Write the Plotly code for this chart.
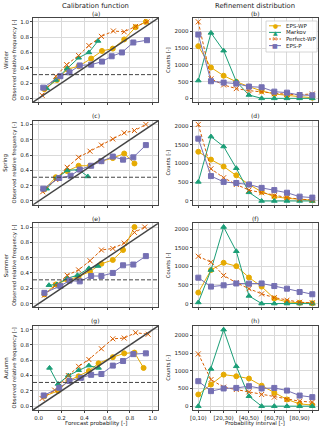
import plotly.graph_objects as go
from plotly.subplots import make_subplots

seasons = ["Winter", "Spring", "Summer", "Autumn"]
models = ["EPS-WP", "Markov", "Perfect-WP", "EPS-P"]
intervals = ["[0,10)", "[10,20)", "[20,30)", "[30,40)", "[40,50)",
             "[50,60)", "[60,70)", "[70,80)", "[80,90)", "[90,100]"]
climatology = [0.31, 0.31, 0.31, 0.31]

# calibration: mean forecast probability (p) and observed relative frequency (f)
winter_epswp_p = [0.05, 0.16, 0.25, 0.35, 0.46, 0.555, 0.65, 0.75, 0.85, 0.94]
winter_epswp_f = [0.12, 0.24, 0.38, 0.42, 0.52, 0.62, 0.65, 0.77, 0.93, 1.0]
winter_markov_p = [0.07, 0.15, 0.25, 0.35, 0.44, 0.52]
winter_markov_f = [0.13, 0.24, 0.39, 0.53, 0.60, 0.75]
winter_perfect_p = [0.03, 0.15, 0.245, 0.35, 0.44, 0.55, 0.655, 0.75, 0.85, 0.95]
winter_perfect_f = [0.04, 0.29, 0.44, 0.56, 0.69, 0.81, 0.88, 0.87, 0.94, 1.0]
winter_epsp_p = [0.04, 0.19, 0.27, 0.36, 0.46, 0.555, 0.64, 0.73, 0.83, 0.95]
winter_epsp_f = [0.14, 0.29, 0.34, 0.43, 0.44, 0.48, 0.55, 0.60, 0.73, 0.76]

spring_epswp_p = [0.05, 0.15, 0.25, 0.35, 0.45, 0.55, 0.65, 0.75, 0.84]
spring_epswp_f = [0.15, 0.31, 0.39, 0.46, 0.46, 0.52, 0.56, 0.62, 0.49]
spring_markov_p = [0.07, 0.16, 0.25, 0.35, 0.43]
spring_markov_f = [0.16, 0.30, 0.40, 0.41, 0.32]
spring_perfect_p = [0.035, 0.15, 0.25, 0.35, 0.45, 0.55, 0.65, 0.75, 0.84, 0.94]
spring_perfect_f = [0.12, 0.28, 0.44, 0.57, 0.65, 0.73, 0.81, 0.89, 0.92, 1.0]
spring_epsp_p = [0.04, 0.18, 0.28, 0.36, 0.46, 0.55, 0.65, 0.74, 0.83, 0.94]
spring_epsp_f = [0.16, 0.30, 0.33, 0.41, 0.46, 0.52, 0.58, 0.54, 0.57, 0.73]

summer_epswp_p = [0.05, 0.15, 0.25, 0.35, 0.45, 0.55, 0.65, 0.74, 0.84]
summer_epswp_f = [0.12, 0.25, 0.31, 0.35, 0.42, 0.52, 0.57, 0.70, 1.0]
summer_markov_p = [0.09, 0.16, 0.25, 0.34, 0.44, 0.52]
summer_markov_f = [0.24, 0.25, 0.33, 0.37, 0.46, 0.49]
summer_perfect_p = [0.05, 0.15, 0.25, 0.35, 0.45, 0.55, 0.65, 0.75, 0.84, 0.93]
summer_perfect_f = [0.11, 0.24, 0.37, 0.44, 0.56, 0.70, 0.72, 0.79, 0.93, 1.0]
summer_epsp_p = [0.05, 0.19, 0.27, 0.36, 0.46, 0.55, 0.65, 0.74, 0.83, 0.94]
summer_epsp_f = [0.14, 0.23, 0.30, 0.29, 0.36, 0.36, 0.40, 0.50, 0.51, 0.62]

autumn_epswp_p = [0.05, 0.17, 0.26, 0.35, 0.44, 0.525, 0.65, 0.75, 0.84, 0.92]
autumn_epswp_f = [0.13, 0.20, 0.33, 0.39, 0.46, 0.56, 0.64, 0.69, 0.70, 0.50]
autumn_markov_p = [0.095, 0.17, 0.26, 0.35, 0.44, 0.525]
autumn_markov_f = [0.50, 0.29, 0.40, 0.47, 0.53, 0.50]
autumn_perfect_p = [0.03, 0.14, 0.26, 0.35, 0.44, 0.55, 0.65, 0.75, 0.85, 0.96]
autumn_perfect_f = [0.10, 0.21, 0.40, 0.52, 0.61, 0.75, 0.88, 0.89, 0.96, 0.94]
autumn_epsp_p = [0.044, 0.18, 0.27, 0.37, 0.46, 0.55, 0.65, 0.74, 0.83, 0.94]
autumn_epsp_f = [0.14, 0.24, 0.33, 0.37, 0.41, 0.42, 0.53, 0.59, 0.68, 0.69]

# refinement: counts per probability interval
winter_epswp_n = [1555, 920, 675, 495, 350, 220, 130, 80, 50, 20]
winter_markov_n = [530, 1950, 1420, 500, 100, 0, 0, 0, 0, 0]
winter_perfect_n = [2280, 580, 400, 290, 230, 190, 140, 120, 110, 130]
winter_epsp_n = [1900, 510, 470, 440, 350, 330, 200, 170, 100, 90]

spring_epswp_n = [1315, 1105, 920, 685, 440, 245, 115, 70, 45, 20]
spring_markov_n = [510, 1720, 1455, 875, 230, 0, 0, 0, 0, 0]
spring_perfect_n = [2045, 860, 620, 440, 290, 220, 140, 90, 50, 25]
spring_epsp_n = [1665, 665, 510, 480, 440, 350, 290, 220, 115, 90]

summer_epswp_n = [295, 900, 1095, 1005, 700, 455, 135, 45, 20, 10]
summer_markov_n = [30, 900, 2055, 1405, 205, 0, 0, 0, 0, 0]
summer_perfect_n = [1270, 1110, 755, 560, 400, 260, 160, 90, 35, 20]
summer_epsp_n = [695, 455, 490, 540, 535, 540, 470, 400, 310, 250]

autumn_epswp_n = [330, 610, 890, 845, 780, 580, 375, 190, 65, 30]
autumn_markov_n = [0, 1050, 2160, 1125, 280, 0, 0, 0, 0, 0]
autumn_perfect_n = [1475, 750, 535, 470, 405, 330, 255, 190, 140, 115]
autumn_epsp_n = [705, 425, 500, 515, 565, 500, 515, 440, 300, 255]

calibration = [
    [(winter_epswp_p, winter_epswp_f), (winter_markov_p, winter_markov_f),
     (winter_perfect_p, winter_perfect_f), (winter_epsp_p, winter_epsp_f)],
    [(spring_epswp_p, spring_epswp_f), (spring_markov_p, spring_markov_f),
     (spring_perfect_p, spring_perfect_f), (spring_epsp_p, spring_epsp_f)],
    [(summer_epswp_p, summer_epswp_f), (summer_markov_p, summer_markov_f),
     (summer_perfect_p, summer_perfect_f), (summer_epsp_p, summer_epsp_f)],
    [(autumn_epswp_p, autumn_epswp_f), (autumn_markov_p, autumn_markov_f),
     (autumn_perfect_p, autumn_perfect_f), (autumn_epsp_p, autumn_epsp_f)],
]
refinement = [
    [winter_epswp_n, winter_markov_n, winter_perfect_n, winter_epsp_n],
    [spring_epswp_n, spring_markov_n, spring_perfect_n, spring_epsp_n],
    [summer_epswp_n, summer_markov_n, summer_perfect_n, summer_epsp_n],
    [autumn_epswp_n, autumn_markov_n, autumn_perfect_n, autumn_epsp_n],
]

styles = {
    "EPS-WP": dict(color="#e6ab02", symbol="circle", dash="solid", glyph="●"),
    "Markov": dict(color="#1b9e77", symbol="triangle-up", dash="solid", glyph="▲"),
    "Perfect-WP": dict(color="#d95f02", symbol="x-thin", dash="dash", glyph="×"),
    "EPS-P": dict(color="#7570b3", symbol="square", dash="solid", glyph="■"),
}

FONT = "DejaVu Sans"
GRID = "#d9d9d9"
SPINE = "#444444"
W, H = 320, 429
ML, MR, MT, MB = 33, 2, 18, 19

fig = make_subplots(rows=4, cols=2, horizontal_spacing=0.12, vertical_spacing=0.047)

x_cat = list(range(len(intervals)))
letters = "abcdefgh"

for r in range(4):
    row = r + 1
    # diagonal (perfect reliability) and climatology
    fig.add_shape(type="line", x0=-0.05, y0=-0.05, x1=1.05, y1=1.05,
                  line=dict(color=SPINE, width=1.5), row=row, col=1)
    fig.add_hline(y=climatology[r], line=dict(color=SPINE, width=1, dash="4px,2px"),
                  row=row, col=1)
    for m, name in enumerate(models):
        st = styles[name]
        p, f = calibration[r][m]
        marker = dict(symbol=st["symbol"], size=5, color=st["color"],
                      line=dict(color=st["color"], width=1))
        line = dict(color=st["color"], width=1,
                    dash="3px,2px" if st["dash"] == "dash" else "solid")
        fig.add_trace(go.Scatter(x=p, y=f, mode="lines+markers", name=name,
                                 showlegend=False, line=line, marker=marker),
                      row=row, col=1)
        fig.add_trace(go.Scatter(x=x_cat, y=refinement[r][m], mode="lines+markers",
                                 name=name, showlegend=False, line=line, marker=marker),
                      row=row, col=2)

    ymax = max(max(v) for v in refinement[r])
    fig.update_yaxes(range=[-0.05 * ymax, 1.05 * ymax], dtick=500,
                     title=dict(text="Counts [-]", standoff=3), row=row, col=2)
    fig.update_yaxes(range=[-0.05, 1.05], dtick=0.2, tickformat=".1f",
                     title=dict(text="Observed relative frequency [-]", standoff=3),
                     row=row, col=1)
    fig.update_xaxes(range=[-0.05, 1.05], dtick=0.2, tickformat=".1f",
                     showticklabels=(r == 3), row=row, col=1)
    fig.update_xaxes(range=[-0.45, 9.45], tickvals=x_cat,
                     ticktext=[t if i % 2 == 0 else "" for i, t in enumerate(intervals)],
                     showticklabels=(r == 3), row=row, col=2)

fig.update_xaxes(showgrid=True, gridcolor=GRID, gridwidth=1, zeroline=False,
                 showline=True, mirror=True, linecolor=SPINE, linewidth=1,
                 ticks="outside", ticklen=2, tickcolor=SPINE, automargin=False,
                 tickfont=dict(size=5.5))
fig.update_yaxes(showgrid=True, gridcolor=GRID, gridwidth=1, zeroline=False,
                 showline=True, mirror=True, linecolor=SPINE, linewidth=1,
                 ticks="outside", ticklen=2, tickcolor=SPINE, automargin=False,
                 tickfont=dict(size=5.5), title_font=dict(size=5.2))

annotations = []
shapes = []
for i in range(8):
    xa = fig.layout["xaxis" + ("" if i == 0 else str(i + 1))]
    ya = fig.layout["yaxis" + ("" if i == 0 else str(i + 1))]
    annotations.append(dict(
        text="(" + letters[i] + ")", x=sum(xa.domain) / 2, y=ya.domain[1],
        xref="paper", yref="paper", yshift=5, showarrow=False,
        font=dict(size=6), xanchor="center", yanchor="middle"))
for c, title in enumerate(["Calibration function", "Refinement distribution"]):
    xa = fig.layout["xaxis" + ("" if c == 0 else str(c + 1))]
    annotations.append(dict(
        text=title, x=sum(xa.domain) / 2, y=1, xref="paper", yref="paper",
        yshift=12, showarrow=False, font=dict(size=6.8),
        xanchor="center", yanchor="middle"))
for c, title in enumerate(["Forecast probability [-]", "Probability interval [-]"]):
    xa = fig.layout["xaxis" + ("" if c == 0 else str(c + 1))]
    annotations.append(dict(
        text=title, x=sum(xa.domain) / 2, y=0, xref="paper", yref="paper",
        yshift=-13, showarrow=False, font=dict(size=5.5),
        xanchor="center", yanchor="middle"))
for r, season in enumerate(seasons):
    ya = fig.layout["yaxis" + ("" if r == 0 else str(2 * r + 1))]
    annotations.append(dict(
        text=season, x=0, y=sum(ya.domain) / 2, xref="paper", yref="paper",
        xshift=-27, showarrow=False, textangle=-90, font=dict(size=5.5),
        xanchor="center", yanchor="middle"))


# hand-built legend in panel (b), placed in pixel units converted to paper
def px_x(px):
    return (px - ML) / (W - ML - MR)


def px_y(py):
    return (H - MB - py) / (H - MT - MB)


shapes.append(dict(type="rect", xref="paper", yref="paper",
                   x0=px_x(266), x1=px_x(317), y0=px_y(21), y1=px_y(52),
                   fillcolor="rgba(255,255,255,0.85)",
                   line=dict(color="#cccccc", width=0.8), layer="above"))
for i, name in enumerate(models):
    st = styles[name]
    yy = px_y(25.8 + 6.6 * i)
    shapes.append(dict(type="line", xref="paper", yref="paper",
                       x0=px_x(269), x1=px_x(281), y0=yy, y1=yy, layer="above",
                       line=dict(color=st["color"], width=1,
                                 dash="2px,1.5px" if st["dash"] == "dash" else "solid")))
    annotations.append(dict(text=st["glyph"], x=px_x(275), y=yy, xref="paper",
                            yref="paper", showarrow=False,
                            font=dict(size=6 if st["glyph"] != "×" else 7,
                                      color=st["color"]),
                            xanchor="center", yanchor="middle"))
    annotations.append(dict(text=name, x=px_x(284), y=yy, xref="paper",
                            yref="paper", showarrow=False, font=dict(size=5.5),
                            xanchor="left", yanchor="middle"))

fig.update_layout(
    width=W, height=H,
    margin=dict(l=ML, r=MR, t=MT, b=MB),
    paper_bgcolor="white", plot_bgcolor="white",
    font=dict(family=FONT, size=6, color="#222222"),
    annotations=annotations,
    shapes=list(fig.layout.shapes) + shapes,
    showlegend=False,
)

# the page body has a default 8px margin; drop it so the figure fills the window
fig.write_html("out.html",
               config={"displayModeBar": False},
               post_script="document.body.style.margin='0';"
                           "document.body.style.overflow='hidden';")
